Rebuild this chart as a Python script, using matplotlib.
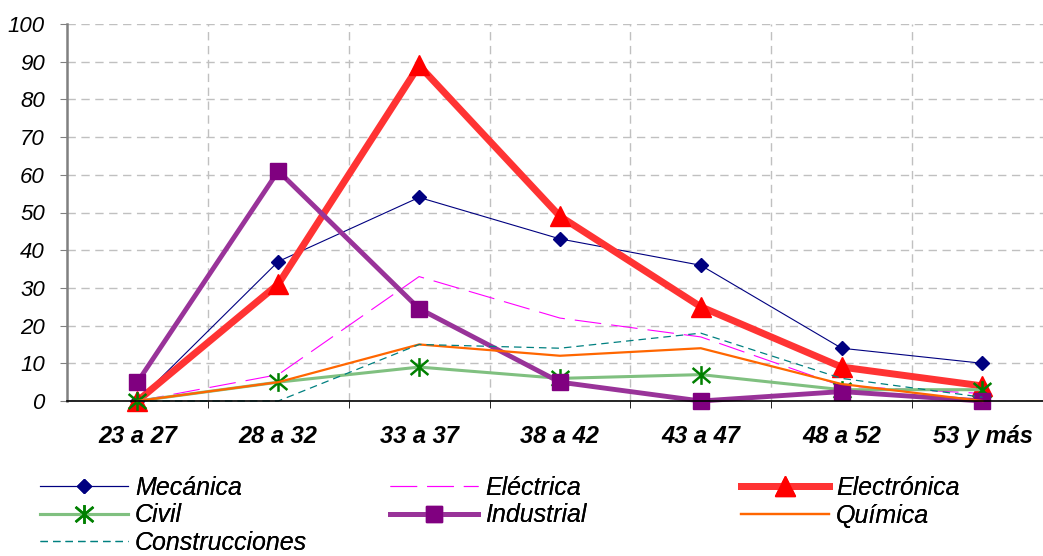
import numpy as np
import matplotlib.pyplot as plt
from matplotlib.path import Path

plt.rcParams['font.family'] = ['Liberation Sans', 'DejaVu Sans']

groups = ['23 a 27', '28 a 32', '33 a 37', '38 a 42', '43 a 47', '48 a 52', '53 y más']
mecanica = [0, 37, 54, 43, 36, 14, 10]
electrica = [0, 7, 33, 22, 17, 4, 2]
electronica = [0, 31, 89, 49, 25, 9, 4]
civil = [0, 5, 9, 6, 7, 3, 3]
industrial = [5, 61, 24.5, 5, 0, 2.5, 0]
quimica = [0, 5, 15, 12, 14, 4.5, 0]
construcciones = [0, 0, 15, 14, 18, 6, 1]

# asterisk: vertical stroke plus an X
star = Path([(0, -1), (0, 1), (-0.95, -0.8), (0.95, 0.8), (-0.95, 0.8), (0.95, -0.8)],
            [Path.MOVETO, Path.LINETO, Path.MOVETO, Path.LINETO, Path.MOVETO, Path.LINETO])

fig = plt.figure(figsize=(10.43, 5.56), dpi=100)
ax = fig.add_axes([67 / 1043, 155 / 556, 1 - 67 / 1043, 377 / 556])
x = np.arange(len(groups))

l1, = ax.plot(x, mecanica, color='#000080', lw=0.8, marker='D', ms=7, label='Mecánica')
l2, = ax.plot(x, electrica, color='#FF00FF', lw=0.8, dashes=(24, 9), label='Eléctrica')
l3, = ax.plot(x, electronica, color='#FF3333', lw=5, marker='^', ms=15,
              mfc='#FF0000', mec='#FF0000', label='Electrónica')
l4, = ax.plot(x, civil, color='#80C080', lw=2.2, marker=star, ms=13.5,
              mec='#008000', mew=1.8, label='Civil')
l5, = ax.plot(x, industrial, color='#993399', lw=3.5, marker='s', ms=12,
              mfc='#800080', mec='#800080', label='Industrial')
l6, = ax.plot(x, quimica, color='#FF6600', lw=1.6, label='Química')
l7, = ax.plot(x, construcciones, color='#008080', lw=0.9, dashes=(6, 4), label='Construcciones')
for ln in (l1, l2, l3, l4, l5, l6, l7):
    ln.set_clip_on(False)

ax.set_xlim(-0.5, 6.43)
ax.set_ylim(0, 100)
ax.set_yticks(range(0, 101, 10))
ax.set_xticks(x)
ax.set_xticklabels(groups, fontsize=17, fontweight='bold', fontstyle='italic')
ax.set_xticks(np.arange(0.5, 6.5, 1), minor=True)
ax.tick_params(axis='y', labelsize=16, length=5, color='#808080', pad=11)
for t in ax.get_yticklabels():
    t.set_fontstyle('italic')
ax.tick_params(axis='x', which='major', length=0, pad=17)
ax.tick_params(axis='x', which='minor', length=5, color='black')

ax.grid(axis='y', color='#C0C0C0', ls=(0, (6, 4)), lw=1)
ax.grid(axis='x', which='minor', color='#C0C0C0', ls=(0, (6, 4)), lw=1)
ax.set_axisbelow(True)
for s in ('top', 'right'):
    ax.spines[s].set_visible(False)
ax.spines['left'].set_color('#808080')
ax.spines['left'].set_linewidth(1.8)
ax.spines['bottom'].set_linewidth(1.2)

# legend laid out as three separate columns
cols = [([l1, l4, l7], 40), ([l2, l5], 390), ([l3, l6], 741)]
for handles, px in cols:
    leg = fig.legend(handles=handles, loc='upper left', bbox_to_anchor=(px / 1043, 1 - 476 / 556),
                     frameon=False, borderpad=0, borderaxespad=0, handlelength=3.5,
                     handletextpad=0.3, labelspacing=0.14,
                     prop={'size': 18, 'style': 'italic'})
    fig.add_artist(leg)

fig.savefig('out.png', dpi=100)
